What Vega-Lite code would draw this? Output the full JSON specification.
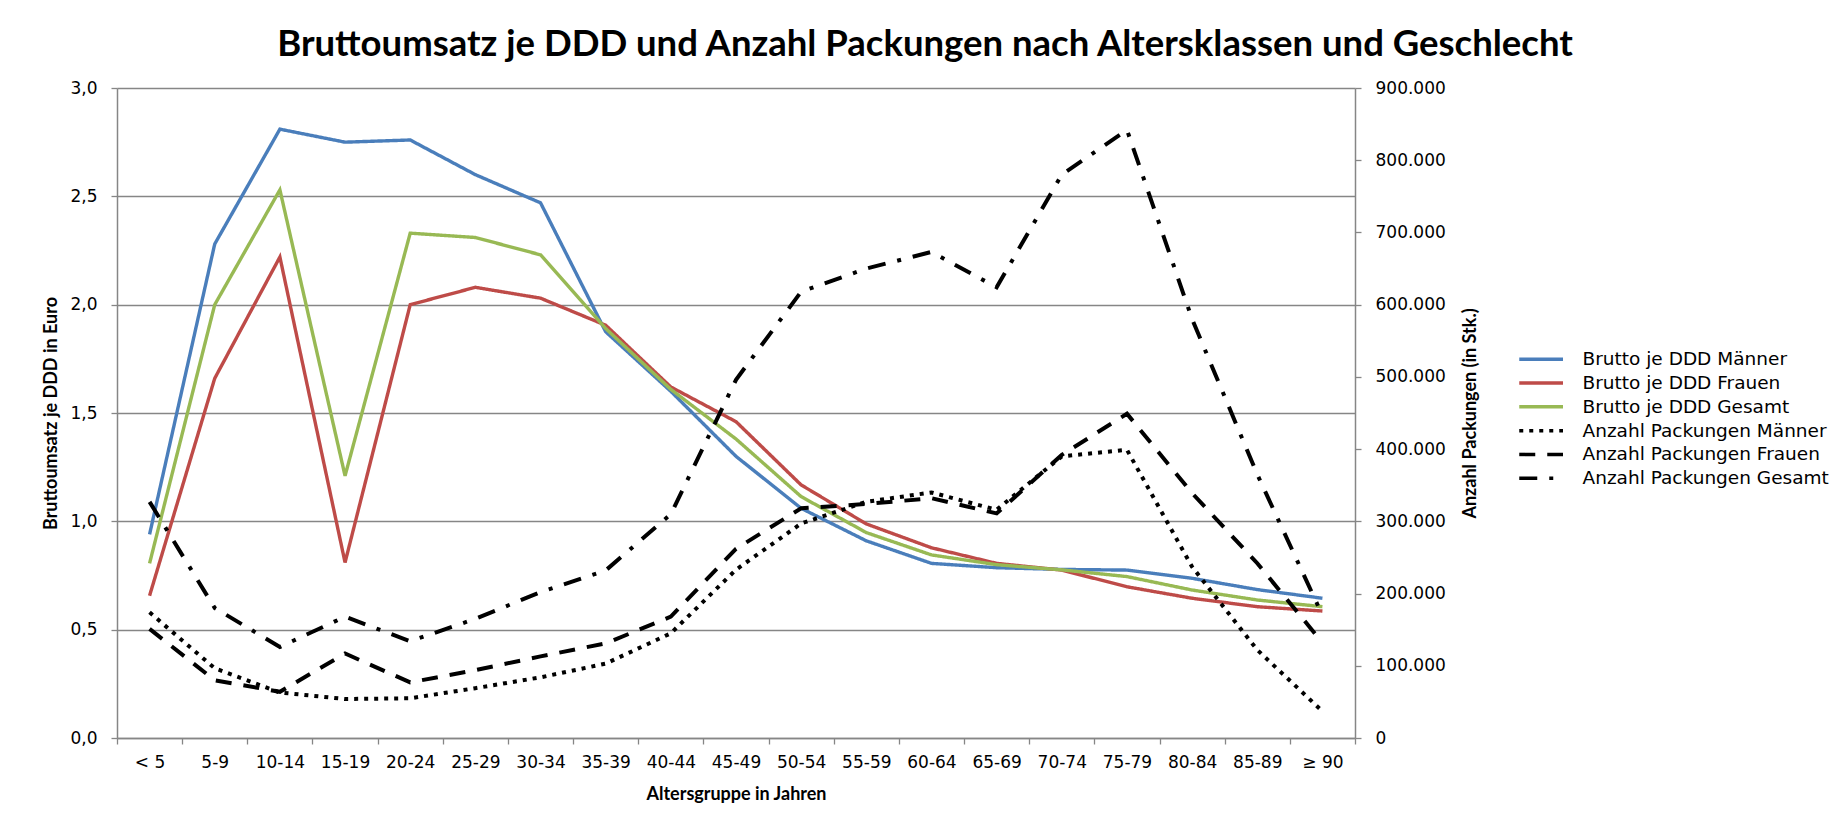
{
  "$schema": "https://vega.github.io/schema/vega-lite/v6.json",
  "width": 1238,
  "height": 650,
  "autosize": {"type": "none"},
  "padding": {"left": 117, "top": 88, "right": 479, "bottom": 90},
  "background": "white",
  "title": {
    "text": "Bruttoumsatz je DDD und Anzahl Packungen nach Altersklassen und Geschlecht",
    "font": "Lato",
    "fontWeight": "bold",
    "fontSize": 36.5,
    "color": "#000000",
    "anchor": "middle",
    "frame": "group",
    "dx": 189,
    "offset": 16
  },
  "data": {
    "values": [
      {"age": "< 5", "series": "Brutto je DDD Männer", "kind": "b", "value": 0.94},
      {"age": "5-9", "series": "Brutto je DDD Männer", "kind": "b", "value": 2.28},
      {"age": "10-14", "series": "Brutto je DDD Männer", "kind": "b", "value": 2.81},
      {"age": "15-19", "series": "Brutto je DDD Männer", "kind": "b", "value": 2.75},
      {"age": "20-24", "series": "Brutto je DDD Männer", "kind": "b", "value": 2.76},
      {"age": "25-29", "series": "Brutto je DDD Männer", "kind": "b", "value": 2.6},
      {"age": "30-34", "series": "Brutto je DDD Männer", "kind": "b", "value": 2.47},
      {"age": "35-39", "series": "Brutto je DDD Männer", "kind": "b", "value": 1.875},
      {"age": "40-44", "series": "Brutto je DDD Männer", "kind": "b", "value": 1.6},
      {"age": "45-49", "series": "Brutto je DDD Männer", "kind": "b", "value": 1.3},
      {"age": "50-54", "series": "Brutto je DDD Männer", "kind": "b", "value": 1.06},
      {"age": "55-59", "series": "Brutto je DDD Männer", "kind": "b", "value": 0.91},
      {"age": "60-64", "series": "Brutto je DDD Männer", "kind": "b", "value": 0.806},
      {"age": "65-69", "series": "Brutto je DDD Männer", "kind": "b", "value": 0.786},
      {"age": "70-74", "series": "Brutto je DDD Männer", "kind": "b", "value": 0.778},
      {"age": "75-79", "series": "Brutto je DDD Männer", "kind": "b", "value": 0.775},
      {"age": "80-84", "series": "Brutto je DDD Männer", "kind": "b", "value": 0.737},
      {"age": "85-89", "series": "Brutto je DDD Männer", "kind": "b", "value": 0.685},
      {"age": "≥ 90", "series": "Brutto je DDD Männer", "kind": "b", "value": 0.645},

      {"age": "< 5", "series": "Brutto je DDD Frauen", "kind": "b", "value": 0.657},
      {"age": "5-9", "series": "Brutto je DDD Frauen", "kind": "b", "value": 1.66},
      {"age": "10-14", "series": "Brutto je DDD Frauen", "kind": "b", "value": 2.22},
      {"age": "15-19", "series": "Brutto je DDD Frauen", "kind": "b", "value": 0.81},
      {"age": "20-24", "series": "Brutto je DDD Frauen", "kind": "b", "value": 2.0},
      {"age": "25-29", "series": "Brutto je DDD Frauen", "kind": "b", "value": 2.08},
      {"age": "30-34", "series": "Brutto je DDD Frauen", "kind": "b", "value": 2.03},
      {"age": "35-39", "series": "Brutto je DDD Frauen", "kind": "b", "value": 1.905},
      {"age": "40-44", "series": "Brutto je DDD Frauen", "kind": "b", "value": 1.62},
      {"age": "45-49", "series": "Brutto je DDD Frauen", "kind": "b", "value": 1.46},
      {"age": "50-54", "series": "Brutto je DDD Frauen", "kind": "b", "value": 1.168},
      {"age": "55-59", "series": "Brutto je DDD Frauen", "kind": "b", "value": 0.988},
      {"age": "60-64", "series": "Brutto je DDD Frauen", "kind": "b", "value": 0.878},
      {"age": "65-69", "series": "Brutto je DDD Frauen", "kind": "b", "value": 0.806},
      {"age": "70-74", "series": "Brutto je DDD Frauen", "kind": "b", "value": 0.775},
      {"age": "75-79", "series": "Brutto je DDD Frauen", "kind": "b", "value": 0.698},
      {"age": "80-84", "series": "Brutto je DDD Frauen", "kind": "b", "value": 0.645},
      {"age": "85-89", "series": "Brutto je DDD Frauen", "kind": "b", "value": 0.606},
      {"age": "≥ 90", "series": "Brutto je DDD Frauen", "kind": "b", "value": 0.586},

      {"age": "< 5", "series": "Brutto je DDD Gesamt", "kind": "b", "value": 0.806},
      {"age": "5-9", "series": "Brutto je DDD Gesamt", "kind": "b", "value": 2.0},
      {"age": "10-14", "series": "Brutto je DDD Gesamt", "kind": "b", "value": 2.53},
      {"age": "15-19", "series": "Brutto je DDD Gesamt", "kind": "b", "value": 1.21},
      {"age": "20-24", "series": "Brutto je DDD Gesamt", "kind": "b", "value": 2.33},
      {"age": "25-29", "series": "Brutto je DDD Gesamt", "kind": "b", "value": 2.31},
      {"age": "30-34", "series": "Brutto je DDD Gesamt", "kind": "b", "value": 2.23},
      {"age": "35-39", "series": "Brutto je DDD Gesamt", "kind": "b", "value": 1.89},
      {"age": "40-44", "series": "Brutto je DDD Gesamt", "kind": "b", "value": 1.609},
      {"age": "45-49", "series": "Brutto je DDD Gesamt", "kind": "b", "value": 1.38},
      {"age": "50-54", "series": "Brutto je DDD Gesamt", "kind": "b", "value": 1.114},
      {"age": "55-59", "series": "Brutto je DDD Gesamt", "kind": "b", "value": 0.948},
      {"age": "60-64", "series": "Brutto je DDD Gesamt", "kind": "b", "value": 0.845},
      {"age": "65-69", "series": "Brutto je DDD Gesamt", "kind": "b", "value": 0.8},
      {"age": "70-74", "series": "Brutto je DDD Gesamt", "kind": "b", "value": 0.776},
      {"age": "75-79", "series": "Brutto je DDD Gesamt", "kind": "b", "value": 0.745},
      {"age": "80-84", "series": "Brutto je DDD Gesamt", "kind": "b", "value": 0.683},
      {"age": "85-89", "series": "Brutto je DDD Gesamt", "kind": "b", "value": 0.637},
      {"age": "≥ 90", "series": "Brutto je DDD Gesamt", "kind": "b", "value": 0.606},

      {"age": "< 5", "series": "Anzahl Packungen Männer", "kind": "p", "value": 174000},
      {"age": "5-9", "series": "Anzahl Packungen Männer", "kind": "p", "value": 96500},
      {"age": "10-14", "series": "Anzahl Packungen Männer", "kind": "p", "value": 63000},
      {"age": "15-19", "series": "Anzahl Packungen Männer", "kind": "p", "value": 54000},
      {"age": "20-24", "series": "Anzahl Packungen Männer", "kind": "p", "value": 55000},
      {"age": "25-29", "series": "Anzahl Packungen Männer", "kind": "p", "value": 69000},
      {"age": "30-34", "series": "Anzahl Packungen Männer", "kind": "p", "value": 84000},
      {"age": "35-39", "series": "Anzahl Packungen Männer", "kind": "p", "value": 103000},
      {"age": "40-44", "series": "Anzahl Packungen Männer", "kind": "p", "value": 145000},
      {"age": "45-49", "series": "Anzahl Packungen Männer", "kind": "p", "value": 233000},
      {"age": "50-54", "series": "Anzahl Packungen Männer", "kind": "p", "value": 297000},
      {"age": "55-59", "series": "Anzahl Packungen Männer", "kind": "p", "value": 327000},
      {"age": "60-64", "series": "Anzahl Packungen Männer", "kind": "p", "value": 340000},
      {"age": "65-69", "series": "Anzahl Packungen Männer", "kind": "p", "value": 316000},
      {"age": "70-74", "series": "Anzahl Packungen Männer", "kind": "p", "value": 390000},
      {"age": "75-79", "series": "Anzahl Packungen Männer", "kind": "p", "value": 399000},
      {"age": "80-84", "series": "Anzahl Packungen Männer", "kind": "p", "value": 237000},
      {"age": "85-89", "series": "Anzahl Packungen Männer", "kind": "p", "value": 122000},
      {"age": "≥ 90", "series": "Anzahl Packungen Männer", "kind": "p", "value": 37000},

      {"age": "< 5", "series": "Anzahl Packungen Frauen", "kind": "p", "value": 151000},
      {"age": "5-9", "series": "Anzahl Packungen Frauen", "kind": "p", "value": 80000},
      {"age": "10-14", "series": "Anzahl Packungen Frauen", "kind": "p", "value": 64000},
      {"age": "15-19", "series": "Anzahl Packungen Frauen", "kind": "p", "value": 117000},
      {"age": "20-24", "series": "Anzahl Packungen Frauen", "kind": "p", "value": 77000},
      {"age": "25-29", "series": "Anzahl Packungen Frauen", "kind": "p", "value": 94000},
      {"age": "30-34", "series": "Anzahl Packungen Frauen", "kind": "p", "value": 113000},
      {"age": "35-39", "series": "Anzahl Packungen Frauen", "kind": "p", "value": 131000},
      {"age": "40-44", "series": "Anzahl Packungen Frauen", "kind": "p", "value": 168000},
      {"age": "45-49", "series": "Anzahl Packungen Frauen", "kind": "p", "value": 262000},
      {"age": "50-54", "series": "Anzahl Packungen Frauen", "kind": "p", "value": 318000},
      {"age": "55-59", "series": "Anzahl Packungen Frauen", "kind": "p", "value": 324000},
      {"age": "60-64", "series": "Anzahl Packungen Frauen", "kind": "p", "value": 332000},
      {"age": "65-69", "series": "Anzahl Packungen Frauen", "kind": "p", "value": 311000},
      {"age": "70-74", "series": "Anzahl Packungen Frauen", "kind": "p", "value": 392000},
      {"age": "75-79", "series": "Anzahl Packungen Frauen", "kind": "p", "value": 449000},
      {"age": "80-84", "series": "Anzahl Packungen Frauen", "kind": "p", "value": 339000},
      {"age": "85-89", "series": "Anzahl Packungen Frauen", "kind": "p", "value": 242000},
      {"age": "≥ 90", "series": "Anzahl Packungen Frauen", "kind": "p", "value": 132000},

      {"age": "< 5", "series": "Anzahl Packungen Gesamt", "kind": "p", "value": 327000},
      {"age": "5-9", "series": "Anzahl Packungen Gesamt", "kind": "p", "value": 180000},
      {"age": "10-14", "series": "Anzahl Packungen Gesamt", "kind": "p", "value": 126000},
      {"age": "15-19", "series": "Anzahl Packungen Gesamt", "kind": "p", "value": 168000},
      {"age": "20-24", "series": "Anzahl Packungen Gesamt", "kind": "p", "value": 134000},
      {"age": "25-29", "series": "Anzahl Packungen Gesamt", "kind": "p", "value": 165000},
      {"age": "30-34", "series": "Anzahl Packungen Gesamt", "kind": "p", "value": 202000},
      {"age": "35-39", "series": "Anzahl Packungen Gesamt", "kind": "p", "value": 232000},
      {"age": "40-44", "series": "Anzahl Packungen Gesamt", "kind": "p", "value": 310000},
      {"age": "45-49", "series": "Anzahl Packungen Gesamt", "kind": "p", "value": 496000},
      {"age": "50-54", "series": "Anzahl Packungen Gesamt", "kind": "p", "value": 618000},
      {"age": "55-59", "series": "Anzahl Packungen Gesamt", "kind": "p", "value": 650000},
      {"age": "60-64", "series": "Anzahl Packungen Gesamt", "kind": "p", "value": 673000},
      {"age": "65-69", "series": "Anzahl Packungen Gesamt", "kind": "p", "value": 624000},
      {"age": "70-74", "series": "Anzahl Packungen Gesamt", "kind": "p", "value": 780000},
      {"age": "75-79", "series": "Anzahl Packungen Gesamt", "kind": "p", "value": 842000},
      {"age": "80-84", "series": "Anzahl Packungen Gesamt", "kind": "p", "value": 580000},
      {"age": "85-89", "series": "Anzahl Packungen Gesamt", "kind": "p", "value": 365000},
      {"age": "≥ 90", "series": "Anzahl Packungen Gesamt", "kind": "p", "value": 170000}
    ]
  },
  "encoding": {
    "x": {
      "field": "age",
      "type": "ordinal",
      "bandPosition": 0.5,
      "scale": {
        "type": "band",
        "paddingInner": 0,
        "paddingOuter": 0,
        "domain": ["< 5", "5-9", "10-14", "15-19", "20-24", "25-29", "30-34", "35-39", "40-44", "45-49", "50-54", "55-59", "60-64", "65-69", "70-74", "75-79", "80-84", "85-89", "≥ 90"]
      },
      "axis": {
        "title": "Altersgruppe in Jahren",
        "labelAngle": 0,
        "tickBand": "extent",
        "tickSize": 6,
        "labelPadding": 10,
        "titlePadding": 15,
        "grid": false
      }
    },
    "color": {
      "field": "series",
      "type": "nominal",
      "scale": {
        "domain": ["Brutto je DDD Männer", "Brutto je DDD Frauen", "Brutto je DDD Gesamt", "Anzahl Packungen Männer", "Anzahl Packungen Frauen", "Anzahl Packungen Gesamt"],
        "range": ["#4A7EBB", "#BE4B48", "#98B954", "#000000", "#000000", "#000000"]
      },
      "legend": {
        "orient": "none",
        "legendX": 1423,
        "legendY": 262,
        "title": null
      }
    },
    "strokeDash": {
      "field": "series",
      "type": "nominal",
      "scale": {
        "domain": ["Brutto je DDD Männer", "Brutto je DDD Frauen", "Brutto je DDD Gesamt", "Anzahl Packungen Männer", "Anzahl Packungen Frauen", "Anzahl Packungen Gesamt"],
        "range": [[1, 0], [1, 0], [1, 0], [4, 6], [16, 12], [18, 12, 4, 12]]
      },
      "legend": {
        "orient": "none",
        "legendX": 1423,
        "legendY": 262,
        "title": null
      }
    }
  },
  "layer": [
    {
      "transform": [{"filter": "datum.kind === 'b'"}],
      "mark": {"type": "line", "strokeWidth": 3.4},
      "encoding": {
        "y": {
          "field": "value",
          "type": "quantitative",
          "scale": {"domain": [0, 3], "nice": false},
          "axis": {
            "title": "Bruttoumsatz je DDD in Euro",
            "values": [0, 0.5, 1, 1.5, 2, 2.5, 3],
            "labelExpr": "replace(format(datum.value, '.1f'), '.', ',')",
            "grid": true,
            "tickSize": 6,
            "labelPadding": 14,
            "titlePadding": 9
          }
        }
      }
    },
    {
      "transform": [{"filter": "datum.kind === 'p'"}],
      "mark": {"type": "line", "strokeWidth": 4},
      "encoding": {
        "y": {
          "field": "value",
          "type": "quantitative",
          "scale": {"domain": [0, 900000], "nice": false},
          "axis": {
            "orient": "right",
            "title": "Anzahl Packungen (in Stk.)",
            "titleAngle": 270,
            "values": [0, 100000, 200000, 300000, 400000, 500000, 600000, 700000, 800000, 900000],
            "labelExpr": "replace(format(datum.value, ',d'), ',', '.')",
            "grid": false,
            "tickSize": 6,
            "labelPadding": 14,
            "titlePadding": 34
          }
        }
      }
    }
  ],
  "resolve": {"scale": {"y": "independent"}},
  "config": {
    "view": {"stroke": null},
    "axis": {
      "domainColor": "#868686",
      "domainWidth": 1.5,
      "tickColor": "#868686",
      "tickWidth": 1.3,
      "gridColor": "#868686",
      "gridWidth": 1.3,
      "labelFont": "DejaVu Sans",
      "labelFontSize": 17,
      "labelColor": "#000000",
      "titleFont": "Lato",
      "titleFontWeight": "bold",
      "titleFontSize": 18,
      "titleColor": "#000000"
    },
    "legend": {
      "symbolType": "M-6,0L2.75,0",
      "symbolSize": 100,
      "symbolStrokeWidth": 3.5,
      "labelFont": "DejaVu Sans",
      "labelFontSize": 18.5,
      "labelColor": "#000000",
      "labelOffset": 24,
      "rowPadding": 4.8,
      "padding": 0,
      "labelLimit": 400
    }
  }
}
